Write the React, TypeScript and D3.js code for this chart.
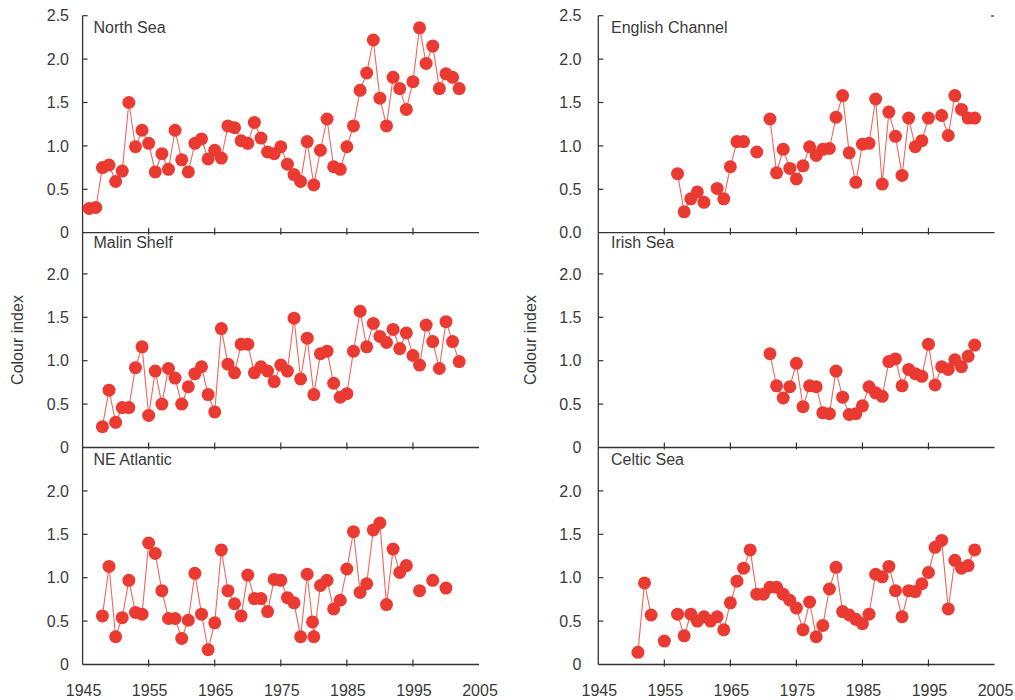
import React from "react";
import * as d3 from "d3";

// ---------- data ----------
const NORTH_SEA_START = 1946;
const NORTH_SEA = [
  0.28, 0.29, 0.75, 0.78, 0.59, 0.71, 1.5, 0.99, 1.18, 1.03,
  0.7, 0.91, 0.73, 1.18, 0.84, 0.7, 1.03, 1.08, 0.85, 0.95,
  0.86, 1.23, 1.21, 1.06, 1.03, 1.27, 1.09, 0.93, 0.91, 0.99,
  0.79, 0.67, 0.59, 1.05, 0.55, 0.95, 1.31, 0.76, 0.73, 0.99,
  1.23, 1.64, 1.84, 2.22, 1.55, 1.23, 1.79, 1.66, 1.42, 1.74,
  2.36, 1.95, 2.15, 1.66, 1.83, 1.79, 1.66,
];

const MALIN_START = 1948;
const MALIN_SHELF = [
  0.24, 0.66, 0.29, 0.46, 0.46, 0.92, 1.16, 0.37, 0.88, 0.5,
  0.91, 0.8, 0.5, 0.7, 0.85, 0.93, 0.61, 0.41, 1.37, 0.96,
  0.86, 1.19, 1.19, 0.86, 0.93, 0.88, 0.76, 0.95, 0.88, 1.49,
  0.79, 1.26, 0.61, 1.08, 1.11, 0.74, 0.58, 0.62, 1.11, 1.57,
  1.16, 1.43, 1.28, 1.21, 1.36, 1.14, 1.32, 1.06, 0.95, 1.41,
  1.22, 0.91, 1.45, 1.22, 0.99,
];

const NE_ATLANTIC_YEARS = [
  1948, 1949, 1950, 1951, 1952, 1953, 1954, 1955, 1956, 1957,
  1958, 1959, 1960, 1961, 1962, 1963, 1964, 1965, 1966, 1967,
  1968, 1969, 1970, 1971, 1972, 1973, 1974, 1975, 1976, 1977,
  1978, 1979, 1979.8, 1980, 1981, 1982, 1983, 1984, 1985, 1986,
  1987, 1988, 1989, 1990, 1991, 1992, 1993, 1994, 1995, 1996,
  1997, 1998, 1999, 2000,
];
const NE_ATLANTIC = [
  0.56, 1.13, 0.32, 0.54, 0.97, 0.6, 0.58, 1.4, 1.28, 0.85,
  0.53, 0.53, 0.3, 0.51, 1.05, 0.58, 0.17, 0.48, 1.32, 0.85,
  0.7, 0.56, 1.03, 0.76, 0.76, 0.61, 0.98, 0.97, 0.77, 0.71,
  0.32, 1.04, 0.49, 0.32, 0.91, 0.97, 0.64, 0.74, 1.1, 1.53,
  0.83, 0.93, 1.55, 1.63, 0.69, 1.33, 1.06, 1.14, null, 0.85,
  null, 0.97, null, 0.88,
];

const ENGLISH_START = 1957;
const ENGLISH_CHANNEL = [
  0.68, 0.24, 0.39, 0.47, 0.35, null, 0.51, 0.39, 0.76, 1.05,
  1.05, null, 0.93, null, 1.31, 0.69, 0.96, 0.74, 0.62, 0.77,
  0.99, 0.89, 0.96, 0.97, 1.33, 1.58, 0.92, 0.58, 1.02, 1.03,
  1.54, 0.56, 1.39, 1.11, 0.66, 1.32, 0.99, 1.06, 1.32, null,
  1.35, 1.12, 1.58, 1.42, 1.32, 1.32,
];

const IRISH_START = 1971;
const IRISH_SEA = [
  1.08, 0.71, 0.57, 0.7, 0.97, 0.47, 0.71, 0.7, 0.4, 0.39,
  0.88, 0.58, 0.38, 0.39, 0.48, 0.7, 0.63, 0.59, 0.99, 1.02,
  0.71, 0.9, 0.85, 0.82, 1.19, 0.72, 0.93, 0.9, 1.01, 0.93,
  1.05, 1.18,
];

const CELTIC_START = 1951;
const CELTIC_SEA = [
  0.14, 0.94, 0.57, null, 0.27, null, 0.58, 0.33, 0.58, 0.5,
  0.55, 0.5, 0.55, 0.4, 0.71, 0.96, 1.11, 1.32, 0.81, 0.81,
  0.89, 0.89, 0.81, 0.74, 0.65, 0.4, 0.72, 0.32, 0.45, 0.87,
  1.12, 0.61, 0.57, 0.52, 0.47, 0.58, 1.04, 1.01, 1.13, 0.85,
  0.55, 0.85, 0.84, 0.93, 1.06, 1.35, 1.43, 0.64, 1.2, 1.11,
  1.14, 1.32,
];

const X_TICKS = [1945, 1955, 1965, 1975, 1985, 1995, 2005];
const Y_TICKS = [0, 0.5, 1.0, 1.5, 2.0, 2.5];

type Pt = { year: number; v: number | null };
const fromStart = (start: number, vals: (number | null)[]): Pt[] =>
  vals.map((v, i) => ({ year: start + i, v }));
const fromYears = (years: number[], vals: (number | null)[]): Pt[] =>
  vals.map((v, i) => ({ year: years[i], v }));

const PANELS = [
  { title: "North Sea", col: 0, row: 0, data: fromStart(NORTH_SEA_START, NORTH_SEA) },
  { title: "Malin Shelf", col: 0, row: 1, data: fromStart(MALIN_START, MALIN_SHELF) },
  { title: "NE Atlantic", col: 0, row: 2, data: fromYears(NE_ATLANTIC_YEARS, NE_ATLANTIC) },
  { title: "English Channel", col: 1, row: 0, data: fromStart(ENGLISH_START, ENGLISH_CHANNEL) },
  { title: "Irish Sea", col: 1, row: 1, data: fromStart(IRISH_START, IRISH_SEA) },
  { title: "Celtic Sea", col: 1, row: 2, data: fromStart(CELTIC_START, CELTIC_SEA) },
];

// ---------- layout ----------
const COL_X = [
  { x0: 82.6, x1: 479, labelRight: 69, titleX: 93.5, yTitleX: 17 },
  { x0: 598.3, x1: 994.5, labelRight: 581.5, titleX: 611, yTitleX: 530 },
];
const ROW_BOTTOM = [232.7, 447.5, 664.5];
const ROW_H = 217;
const FONT = "'Liberation Sans', Arial, Helvetica, sans-serif";
const TEXT = "#3a3a3a";
const AXIS = "#333";
const DOT = "#ea3a31";
const LINE = "#f2665d";

function yLabel(col: number, row: number, t: number): string | null {
  if (t === 2.5) return row === 0 ? "2.5" : null;
  if (t === 0) return row === 0 && col === 1 ? "0.0" : "0";
  return t.toFixed(1);
}

export default function App() {
  return (
    <div style={{ position: "absolute", left: 0, top: 0 }}>
      <svg width={1015} height={700} style={{ display: "block", background: "#fff" }}>
        {COL_X.map((c, col) => (
          <g key={"axis" + col}>
            <line x1={c.x0} x2={c.x0} y1={ROW_BOTTOM[0] - ROW_H} y2={ROW_BOTTOM[2]} stroke={AXIS} strokeWidth={1.3} />
            <text
              transform={`translate(${c.yTitleX + 6},${340}) rotate(-90)`}
              textAnchor="middle"
              fontFamily={FONT}
              fontSize={16}
              fill={TEXT}
            >
              Colour index
            </text>
          </g>
        ))}
        <line x1={991} x2={994} y1={16} y2={16} stroke={AXIS} strokeWidth={1.2} />
        {PANELS.map((p) => {
          const c = COL_X[p.col];
          const x = d3.scaleLinear().domain([1945, 2005]).range([c.x0, c.x1]);
          const bottom = ROW_BOTTOM[p.row];
          const y = d3.scaleLinear().domain([0, 2.5]).range([bottom, bottom - ROW_H]);
          const line = d3
            .line<Pt>()
            .defined((d) => d.v != null)
            .x((d) => x(d.year))
            .y((d) => y(d.v as number));
          return (
            <g key={p.title}>
              <line x1={c.x0} x2={c.x1} y1={bottom} y2={bottom} stroke={AXIS} strokeWidth={1.3} />
              {X_TICKS.slice(1, -1).map((t) => (
                <line key={t} x1={x(t)} x2={x(t)} y1={bottom - 5} y2={bottom + 2} stroke={AXIS} strokeWidth={1.2} />
              ))}
              {Y_TICKS.map((t) => {
                const lab = yLabel(p.col, p.row, t);
                if (lab == null) return null;
                return (
                  <g key={t}>
                    {t > 0 && (
                      <line x1={c.x0} x2={c.x0 + 5} y1={y(t)} y2={y(t)} stroke={AXIS} strokeWidth={1.2} />
                    )}
                    <text
                      x={c.labelRight}
                      y={y(t)}
                      dy="0.36em"
                      textAnchor="end"
                      fontFamily={FONT}
                      fontSize={16}
                      fill={TEXT}
                    >
                      {lab}
                    </text>
                  </g>
                );
              })}
              {p.row === 2 &&
                X_TICKS.map((t) => (
                  <text
                    key={"xl" + t}
                    x={x(t) + 1}
                    y={bottom + 31}
                    textAnchor="middle"
                    fontFamily={FONT}
                    fontSize={16}
                    fill={TEXT}
                  >
                    {t}
                  </text>
                ))}
              <text
                x={c.titleX}
                y={bottom - ROW_H + 17}
                fontFamily={FONT}
                fontSize={16}
                fill={TEXT}
              >
                {p.title}
              </text>
              <path d={line(p.data) || ""} fill="none" stroke={LINE} strokeWidth={1.1} />
              {p.data
                .filter((d) => d.v != null)
                .map((d, i) => (
                  <circle key={i} cx={x(d.year)} cy={y(d.v as number)} r={6.5} fill={DOT} />
                ))}
            </g>
          );
        })}
      </svg>
    </div>
  );
}
